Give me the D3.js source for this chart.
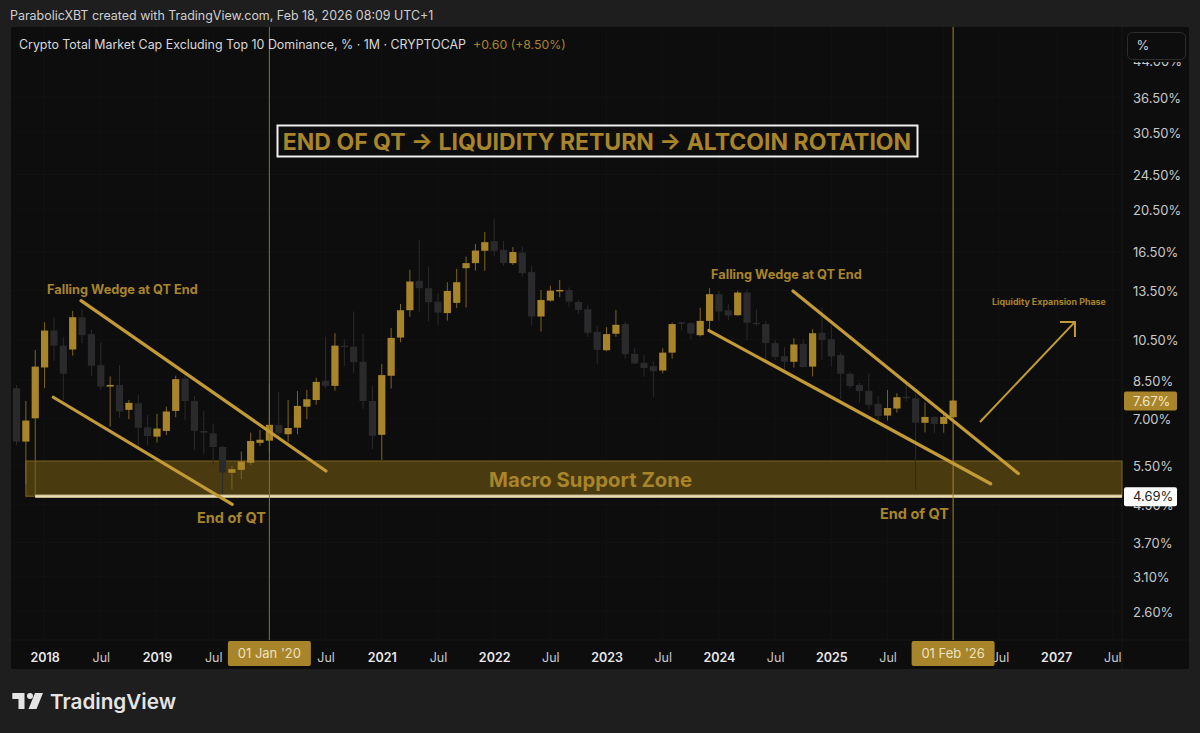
<!DOCTYPE html>
<html>
<head>
<meta charset="utf-8">
<script src="https://cdnjs.cloudflare.com/ajax/libs/d3/7.8.5/d3.min.js"></script>
<style>
  html, body { margin: 0; padding: 0; background: #1e1e1e; overflow: hidden; }
  svg { display: block; }
  text { font-family: Inter, Roboto, sans-serif; }
</style>
</head>
<body>
<div id="chart"></div>
<script>
// monthly candles, first bar is Oct 2017, last bar is Feb 2026
var opens = [8.17,6.21,7.00,9.09,10.99,10.17,9.97,11.77,10.79,9.20,8.24,8.31,7.31,7.56,6.68,6.37,6.56,7.27,8.59,7.65,6.56,6.48,6.04,5.29,5.37,5.57,6.17,6.24,
  6.77,6.45,6.67,7.43,7.69,8.49,8.27,10.17,10.12,9.36,7.65,6.43,8.71,10.60,12.20,14.19,13.66,12.75,12.02,12.67,15.14,15.54,16.56,17.40,16.64,15.54,16.41,14.84,11.81,12.82,13.47,
  13.54,12.73,12.26,10.92,9.93,10.81,11.36,9.75,9.31,9.15,8.95,9.81,11.47,11.42,10.73,11.55,13.25,12.20,11.89,13.36,11.44,11.36,10.30,9.63,9.36,10.26,9.13,
  10.86,10.51,9.69,8.80,8.31,8.06,7.54,7.10,7.36,7.82,7.76,6.84,7.05,6.80,7.04];
var closes = [6.21,6.92,9.13,10.99,10.17,8.80,11.77,10.73,9.17,8.24,8.31,7.25,7.58,6.67,6.39,6.64,7.25,8.56,7.65,6.56,6.50,6.04,5.30,5.39,5.61,6.23,6.27,6.77,
  6.48,6.66,7.46,7.72,8.44,8.27,10.17,10.10,9.34,7.65,6.40,8.74,10.58,12.20,14.14,13.66,12.71,12.05,13.47,14.09,15.54,16.58,17.31,16.56,15.54,16.45,14.76,11.81,12.86,13.49,13.54,
  12.75,12.22,10.86,9.95,10.79,11.32,9.73,9.28,9.06,8.92,9.81,11.36,11.42,10.82,11.55,13.25,12.12,11.87,13.36,11.44,11.36,10.30,9.60,9.36,10.23,9.11,10.84,
  10.47,9.62,8.80,8.26,8.05,7.50,7.08,7.38,7.80,7.80,6.84,7.05,6.80,7.05,7.67];
var highs = [8.31,7.65,9.95,11.47,11.77,10.62,12.16,12.28,11.03,10.35,8.68,9.21,7.69,7.89,7.12,7.16,7.43,8.71,8.86,7.85,7.27,6.80,6.08,5.48,5.90,6.50,6.59,8.36,
  8.03,7.69,8.05,8.10,8.62,10.65,10.84,10.51,12.12,10.79,8.27,9.26,11.13,12.60,15.01,17.51,15.27,13.32,14.09,15.09,16.07,17.16,18.23,19.51,17.40,16.87,16.92,15.32,13.54,13.83,14.26,
  13.72,12.86,12.54,11.26,11.18,12.22,11.51,10.05,9.70,9.37,10.03,11.45,11.49,11.45,12.36,13.66,13.47,12.60,13.49,13.59,12.26,11.55,10.47,10.09,10.56,10.51,11.07,
  12.38,11.26,9.81,8.90,8.41,8.80,7.85,8.10,7.96,8.39,7.94,7.59,7.06,7.20,7.67];
var lows = [6.10,4.99,4.68,8.17,9.40,7.69,9.66,10.30,8.70,8.10,6.71,7.03,6.97,6.05,6.10,6.18,6.42,7.04,6.94,5.95,5.83,5.51,4.60,4.86,5.12,5.51,6.07,5.89,
  6.35,6.21,6.45,6.97,7.51,8.17,8.07,9.17,8.83,7.35,5.97,5.65,8.16,10.35,11.80,12.08,11.51,11.32,11.57,12.33,12.37,14.96,14.94,16.14,15.35,15.40,14.51,11.28,10.93,12.75,13.04,
  12.43,11.98,10.64,9.26,9.88,10.65,9.51,9.26,8.68,7.80,8.82,9.51,10.99,10.51,10.66,11.07,11.55,11.61,11.85,10.47,11.26,9.37,9.45,8.90,9.09,9.09,8.68,
  9.45,9.13,7.73,8.17,7.59,7.34,6.82,6.92,7.21,7.65,4.84,6.51,6.48,6.50,7.04];

// axis labels
var priceTicks = [44, 36.5, 30.5, 24.5, 20.5, 16.5, 13.5, 10.5, 8.5, 7, 5.5, 4.5, 3.7, 3.1, 2.6];
var timeTicks = [3, 9, 15, 21, 33, 39, 45, 51, 57, 63, 69, 75, 81, 87, 93, 105, 111, 117];
var timeLabels = ["2018", "Jul", "2019", "Jul", "Jul", "2021", "Jul", "2022", "Jul", "2023", "Jul", "2024", "Jul", "2025", "Jul", "Jul", "2027", "Jul"];
var gridTicks = [3, 9, 15, 21, 27, 33, 39, 45, 51, 57, 63, 69, 75, 81, 87, 93, 99, 105, 111, 117];

// drawings as [bar index, percent]
var trendLines = [
  [[6.89, 12.82], [33.04, 5.34]],
  [[3.93, 7.80], [23.04, 4.50]],
  [[82.9, 13.47], [106.96, 5.27]],
  [[73.94, 10.99], [104.01, 5.00]]
];
var arrowLine = [[102.87, 6.87], [113.01, 11.49]];
var arrowHead = [[111.41, 11.49], [113.01, 11.49], [113.01, 10.63]];
var markedBars = [27, 100];
var markedLabels = ["01 Jan '20", "01 Feb '26"];
var zoneTop = 5.62, zoneBottom = 4.69, zoneStart = 1, lastPrice = 7.67;

var gold = "#a8842a", goldLine = "#c29b36", goldWick = "#7f6420", darkBody = "#2a2a2c", darkWick = "#2b2b2d";

var width = 1200, height = 733;
var pane = {left: 11, right: 1189, top: 27, bottom: 669}, axisX = 1122, axisY = 640;

var svg = d3.select("#chart").append("svg")
  .attr("width", width)
  .attr("height", height);

svg.append("rect").attr("width", width).attr("height", height).attr("fill", "#1e1e1e");
svg.append("rect")
  .attr("x", pane.left).attr("y", pane.top)
  .attr("width", pane.right - pane.left).attr("height", pane.bottom - pane.top)
  .attr("fill", "#0d0d0d");

// scales
var x = d3.scaleLinear().domain([0, 100]).range([16.5, 953.1]);
var y = d3.scaleLog().domain([2.6, 36.5]).range([611, 97]);

// faint grid
svg.append("g").selectAll("line").data(gridTicks).join("line")
  .attr("x1", d => x(d)).attr("x2", d => x(d))
  .attr("y1", pane.top).attr("y2", axisY)
  .attr("stroke", "#121212");
svg.append("g").selectAll("line").data(priceTicks.slice(1)).join("line")
  .attr("x1", pane.left).attr("x2", axisX)
  .attr("y1", d => y(d)).attr("y2", d => y(d))
  .attr("stroke", "#121212");

// axis borders
svg.append("line").attr("x1", axisX).attr("x2", axisX).attr("y1", pane.top).attr("y2", pane.bottom).attr("stroke", "#161616");
svg.append("line").attr("x1", pane.left).attr("x2", pane.right).attr("y1", axisY).attr("y2", axisY).attr("stroke", "#161616");

// support zone
svg.append("rect")
  .attr("x", x(zoneStart)).attr("y", y(zoneTop))
  .attr("width", axisX - x(zoneStart)).attr("height", y(zoneBottom) - y(zoneTop))
  .attr("fill", "#4a3a10")
  .attr("stroke", "#7d6420").attr("stroke-width", 1);

// candles
var bars = svg.append("g").selectAll("g").data(opens).join("g");
bars.append("line")
  .attr("x1", (d, i) => x(i)).attr("x2", (d, i) => x(i))
  .attr("y1", (d, i) => y(highs[i])).attr("y2", (d, i) => y(lows[i]))
  .attr("stroke", (d, i) => closes[i] >= opens[i] ? goldWick : darkWick);
bars.append("rect")
  .attr("x", (d, i) => x(i) - 3.6).attr("width", 7.2)
  .attr("y", (d, i) => y(Math.max(opens[i], closes[i])))
  .attr("height", (d, i) => Math.max(1.5, Math.abs(y(opens[i]) - y(closes[i]))))
  .attr("fill", (d, i) => closes[i] >= opens[i] ? gold : darkBody);

// level line on zone bottom, pale gold with a cream core
svg.append("line")
  .attr("x1", x(2)).attr("x2", axisX)
  .attr("y1", y(zoneBottom)).attr("y2", y(zoneBottom))
  .attr("stroke", "#bfae7c").attr("stroke-width", 3.6);
svg.append("line")
  .attr("x1", x(2)).attr("x2", axisX)
  .attr("y1", y(zoneBottom)).attr("y2", y(zoneBottom))
  .attr("stroke", "#f3ecd6").attr("stroke-width", 1.2);

// marked dates
svg.append("g").selectAll("line").data(markedBars).join("line")
  .attr("x1", d => x(d)).attr("x2", d => x(d))
  .attr("y1", pane.top).attr("y2", axisY)
  .attr("stroke", (d, i) => i ? "#a8842a" : "#85703a");

// wedge lines
var line = d3.line().x(d => x(d[0])).y(d => y(d[1]));
svg.append("g").selectAll("path").data(trendLines).join("path")
  .attr("d", line)
  .attr("fill", "none").attr("stroke", goldLine).attr("stroke-width", 3.2).attr("stroke-linecap", "round");
[arrowLine, arrowHead].forEach(function(p) {
  svg.append("path").attr("d", line(p))
    .attr("fill", "none").attr("stroke", goldLine).attr("stroke-width", 2);
});

// annotations
function label(txt, px, py, size, opts) {
  opts = opts || {};
  return svg.append("text").text(txt)
    .attr("x", px).attr("y", py)
    .attr("font-size", size)
    .attr("font-weight", opts.weight || 700)
    .attr("text-anchor", opts.anchor || "start")
    .attr("fill", opts.fill || gold);
}
label("Falling Wedge at QT End", 47, 294, 12.75);
label("Falling Wedge at QT End", 711, 279, 12.75);
label("End of QT", 197, 522.5, 14.5);
label("End of QT", 880, 518.5, 14.5);
label("Macro Support Zone", 590.5, 487, 20.3, {anchor: "middle"});
label("Liquidity Expansion Phase", 992, 305, 8.9);

svg.append("rect").attr("x", 277.5).attr("y", 125.5).attr("width", 640).attr("height", 31)
  .attr("fill", "none").attr("stroke", "#f0f0f0").attr("stroke-width", 2);
label("END OF QT \u2192 LIQUIDITY RETURN \u2192 ALTCOIN ROTATION", 597, 149.5, 23, {anchor: "middle"});

// price axis
var yAxis = svg.append("g")
  .attr("transform", "translate(1126,1)")
  .call(d3.axisRight(y).tickValues(priceTicks).tickSize(0).tickPadding(7)
    .tickFormat(d => d.toFixed(2) + "%"));
yAxis.select(".domain").remove();
yAxis.selectAll("text").attr("font-size", 13).attr("fill", "#c8c8c8").style("font-family", "Inter, Roboto, sans-serif");

// time axis
var xAxis = svg.append("g")
  .attr("transform", "translate(0," + axisY + ")")
  .call(d3.axisBottom(x).tickValues(timeTicks).tickSize(0).tickPadding(13)
    .tickFormat((d, i) => timeLabels[i]));
xAxis.select(".domain").remove();
xAxis.selectAll("text")
  .attr("font-size", 12.5)
  .attr("fill", (d, i) => timeLabels[i] == "Jul" ? "#c8c8c8" : "#e8e8e8")
  .attr("font-weight", (d, i) => timeLabels[i] == "Jul" ? 400 : 600)
  .style("font-family", "Inter, Roboto, sans-serif");

// date tags
var tags = svg.append("g").selectAll("g").data(markedBars).join("g");
tags.append("rect")
  .attr("x", d => x(d) - 41.5).attr("y", 641).attr("width", 83).attr("height", 25).attr("rx", 2)
  .attr("fill", gold);
tags.append("text").text((d, i) => markedLabels[i])
  .attr("x", d => x(d)).attr("y", 658)
  .attr("text-anchor", "middle").attr("font-size", 13).attr("fill", "#eee2c0");

// price tags
function priceTag(v, bg, fg) {
  svg.append("rect").attr("x", 1124).attr("y", y(v) - 9).attr("width", 53).attr("height", 19).attr("rx", 2).attr("fill", bg);
  svg.append("text").text(v.toFixed(2) + "%")
    .attr("x", 1133).attr("y", y(v) + 5).attr("font-size", 13).attr("fill", fg);
}
priceTag(lastPrice, gold, "#f2e8cc");
priceTag(zoneBottom, "#ffffff", "#222222");

// % button, covers most of the top tick
svg.append("rect").attr("x", 1124).attr("y", 28).attr("width", 65).attr("height", 34).attr("fill", "#0d0d0d");
svg.append("rect").attr("x", 1127.5).attr("y", 32.5).attr("width", 58).attr("height", 27).attr("rx", 5)
  .attr("fill", "#0d0d0d").attr("stroke", "#2c2c2c");
label("%", 1136.5, 50, 13, {weight: 400, fill: "#d0d0d0"});

// headers
label("ParabolicXBT created with TradingView.com, Feb 18, 2026 08:09 UTC+1", 10, 20, 12.45, {weight: 400, fill: "#cfcfcf"});
label("Crypto Total Market Cap Excluding Top 10 Dominance, % \u00b7 1M \u00b7 CRYPTOCAP", 19, 49, 12.4, {weight: 400, fill: "#d8d8d8"});
label("+0.60 (+8.50%)", 473, 49, 12.3, {weight: 400});

// logo
svg.append("path").attr("fill", "#e4e4e4")
  .attr("d", "M12.3 693H24.5V709H18.5V699H12.3ZM35 693H43L36.5 709H28.5Z");
svg.append("circle").attr("cx", 30).attr("cy", 696).attr("r", 3).attr("fill", "#e4e4e4");
label("TradingView", 50, 709, 20.7, {weight: 600, fill: "#e4e4e4"});
</script>
</body>
</html>
